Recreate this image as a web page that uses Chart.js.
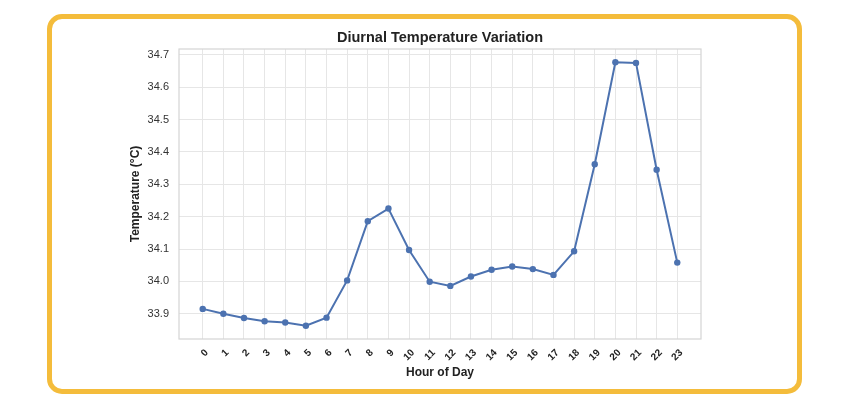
<!DOCTYPE html>
<html>
<head>
<meta charset="utf-8">
<title>Diurnal Temperature Variation</title>
<script src="https://cdn.jsdelivr.net/npm/chart.js@4/dist/chart.umd.min.js"></script>
<style>
  html, body { margin: 0; padding: 0; background: #fff; }
  #wrap { position: relative; width: 848px; height: 405px; }
  #frame {
    position: absolute; left: 47px; top: 14px; width: 755px; height: 380px;
    box-sizing: border-box; border: 5px solid #f4bc3b; border-radius: 15px;
  }
  #tempChart { position: absolute; left: 0; top: 0; }
</style>
</head>
<body>
<div id="wrap">
  <div id="frame"></div>
  <canvas id="tempChart" width="848" height="405"></canvas>
</div>
<script>
// hours of day and mean temperature
var hours = [0, 1, 2, 3, 4, 5, 6, 7, 8, 9, 10, 11, 12, 13, 14, 15, 16, 17, 18, 19, 20, 21, 22, 23];
var temps = [33.915, 33.900, 33.887, 33.877, 33.873, 33.863, 33.888, 34.003, 34.186, 34.225,
             34.097, 33.999, 33.986, 34.015, 34.036, 34.046, 34.038, 34.020, 34.093, 34.362,
             34.677, 34.675, 34.345, 34.058];
var yTicks = [33.9, 34.0, 34.1, 34.2, 34.3, 34.4, 34.5, 34.6, 34.7];
var chartTitle = "Diurnal Temperature Variation";

var points = hours.map(function (h, i) { return { x: h, y: temps[i] }; });

// grey box round the plot area + title centred over the axes (not the whole canvas)
var plotBorder = {
    id: "plotBorder",
    afterDraw: function (chart) {
        var a = chart.chartArea, ctx = chart.ctx;
        ctx.save();
        ctx.strokeStyle = "#d4d4d4";
        ctx.lineWidth = 1.2;
        ctx.strokeRect(a.left, a.top, a.right - a.left, a.bottom - a.top);

        ctx.fillStyle = "#222";
        ctx.font = "bold 14.5px 'Liberation Sans', Arial, sans-serif";
        ctx.textAlign = "center";
        ctx.textBaseline = "middle";
        ctx.fillText(chartTitle, (a.left + a.right) / 2, 38);
        ctx.restore();
    }
};

Chart.defaults.font.family = "'Liberation Sans', Arial, sans-serif";
Chart.defaults.color = "#333";

var ctx = document.getElementById("tempChart").getContext("2d");
new Chart(ctx, {
    type: "line",
    data: {
        datasets: [{
            label: "Temperature",
            data: points,
            borderColor: "#4c72b0",
            backgroundColor: "#4c72b0",
            borderWidth: 2,
            pointRadius: 3.2,
            pointBorderWidth: 0,
            pointBackgroundColor: "#4c72b0",
            tension: 0
        }]
    },
    options: {
        responsive: false,
        animation: false,
        layout: { padding: { left: 119, right: 147, top: 49, bottom: 25 } },
        plugins: {
            legend: { display: false },
            tooltip: { enabled: false },
            title: { display: false }
        },
        scales: {
            x: {
                type: "linear",
                min: -1.15,
                max: 24.15,
                afterBuildTicks: function (scale) {
                    scale.ticks = hours.map(function (h) { return { value: h }; });
                },
                afterFit: function (scale) { scale.height = 41; },
                grid: { color: "#e6e6e6", lineWidth: 1, drawTicks: false },
                border: { display: false },
                ticks: {
                    autoSkip: false,
                    minRotation: 45,
                    maxRotation: 45,
                    padding: 8,
                    labelOffset: 4,
                    color: "#222",
                    font: { size: 10, weight: "bold" }
                },
                title: {
                    display: true,
                    text: "Hour of Day",
                    color: "#222",
                    font: { size: 12, weight: "bold" },
                    padding: 0
                }
            },
            y: {
                min: 33.822,
                max: 34.718,
                afterBuildTicks: function (scale) {
                    scale.ticks = yTicks.map(function (v) { return { value: v }; });
                },
                afterFit: function (scale) { scale.width = 60; },
                grid: { color: "#e6e6e6", lineWidth: 1, drawTicks: false },
                border: { display: false },
                ticks: {
                    padding: 10,
                    font: { size: 11 },
                    callback: function (v) { return v.toFixed(1); }
                },
                title: {
                    display: true,
                    text: "Temperature (°C)",
                    color: "#222",
                    font: { size: 12, weight: "bold" },
                    padding: { top: 9, bottom: 0 }
                }
            }
        }
    },
    plugins: [plotBorder]
});
</script>
</body>
</html>
